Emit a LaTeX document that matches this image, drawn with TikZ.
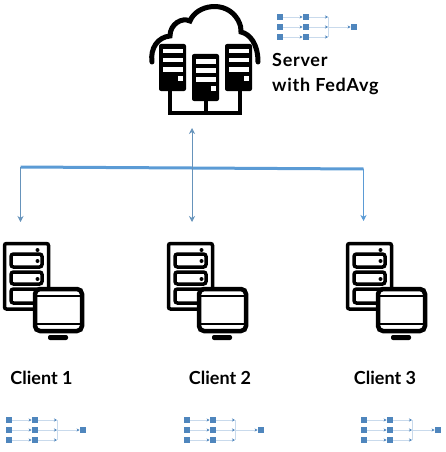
\documentclass[tikz,border=0pt]{standalone}
\usepackage{fontspec}
\setsansfont{Lato}
\usepackage{xcolor}
\usetikzlibrary{arrows.meta, positioning, calc}
\definecolor{netblue}{HTML}{5B9BD5}
\definecolor{sqblue}{HTML}{4F86BD}
\definecolor{wireblue}{HTML}{C9DAEC}
\tikzset{
  minisq/.style={draw=none, fill=sqblue, minimum size=6.5pt, inner sep=0pt},
  miniwire/.style={wireblue, line width=0.7pt, -{Stealth[length=3pt,width=3pt,color=sqblue]}},
  bigtext/.style={font=\sffamily\bfseries\fontsize{18}{18}\selectfont},
  blackrack/.pic={
    \fill[black, rounded corners=2pt] (0,0) rectangle (27,47);
    \foreach \y in {5,14,23}
      \fill[white] (4,\y) rectangle (24,\y+4.5);
    \fill[white] (19,32) rectangle (23.5,37);
  },
  clientset/.pic={
    %% rack
    \draw[line width=3.5pt, rounded corners=2pt] (1.5,1.5) rectangle (45.5,67);
    \foreach \y/\h in {12/13,30/12,47/14}
      \draw[line width=3.5pt, rounded corners=2.5pt] (8,\y) rectangle (39,\y+\h);
    \foreach \y in {8,19,37}
      \fill (34.5,\y) circle (2pt);
    %% monitor
    \draw[fill=white, line width=4.5pt, rounded corners=5pt] (32,47) rectangle (79,89);
    \draw[line width=2.5pt] (32,54) -- (79,54);
    \draw[line width=2.5pt] (32,82) -- (79,82);
    \fill[rounded corners=2pt] (45,93) rectangle (65,98);
  },
  mininet/.pic={
    \foreach \r/\y in {1/0,2/10,3/20} {
      \node[minisq] (-a\r) at (0,\y) {};
      \node[minisq] (-b\r) at (26,\y) {};
      \coordinate (-c\r) at (48,\y);
      \draw[miniwire] (-a\r) -- (-b\r);
      \draw[miniwire] (-b\r) -- (-c\r);
    }
    \node[minisq] (-out) at (74,10) {};
    \draw[wireblue, line width=0.7pt] (-c1) -- (-c3);
    \draw[miniwire] (-c2) -- (-out);
  }
}
\begin{document}
\begin{tikzpicture}[x=1pt, y=-1pt, >={Stealth[length=6pt,width=6pt]}, font=\sffamily\bfseries]
  \useasboundingbox (0,0) rectangle (446,452);

  %% Cloud with server racks
  \draw[line width=5pt, line cap=round]
    (152,62) .. controls (150,48) and (158,37) .. (170,36)
    .. controls (170,24) and (182,17) .. (190,21)
    .. controls (196,5) and (226,-1) .. (238,20)
    .. controls (241,26) and (241,28) .. (241,32)
    .. controls (250,34) and (258,44) .. (258,62);
  \fill[white] (160,44) rectangle (251,70);
  \draw[line width=4pt] (170,85) -- (170,113) -- (240,113) -- (240,85);
  \draw[line width=4pt] (206,95) -- (206,113);
  \pic at (159,44) {blackrack};
  \pic at (192,54) {blackrack};
  \pic at (225,44) {blackrack};

  %% Server label and its network
  \pic (srvnet) at (280,17) {mininet};
  \node[anchor=west, inner sep=0pt, bigtext] (srvlabel) at (272,60) {\addfontfeature{LetterSpace=4}Server};
  \node[anchor=west, inner sep=0pt, bigtext] (fedlabel) at (272,86) {\addfontfeature{LetterSpace=4}with FedAvg};

  %% Bus and arrows
  \coordinate (busl) at (20.5,167);
  \coordinate (busm) at (192,168);
  \coordinate (busr) at (363.5,169);
  \coordinate (tipup) at (192,128);
  \coordinate (tipl) at (20.5,222);
  \coordinate (tipm) at (192,222);
  \coordinate (tipr) at (363.5,221);
  \draw[netblue, line width=3pt] (busl) -- (busr);
  \draw[->, netblue!70!gray, line width=0.8pt] (busl) -- (tipl);
  \draw[<->, netblue!70!gray, line width=0.8pt] (tipup) -- (tipm);
  \draw[->, netblue, line width=0.6pt] (busr) -- (tipr);

  %% Clients
  \pic at (3,242) {clientset};
  \pic at (167,242) {clientset};
  \pic at (346,242) {clientset};
  \node[bigtext] (client1) at (41.5,378) {Client 1};
  \node[bigtext] (client2) at (220,378) {Client 2};
  \node[bigtext] (client3) at (385,378) {Client 3};
  \pic (net1) at (9,420) {mininet};
  \pic (net2) at (187,420) {mininet};
  \pic (net3) at (364,420) {mininet};
\end{tikzpicture}
\end{document}
